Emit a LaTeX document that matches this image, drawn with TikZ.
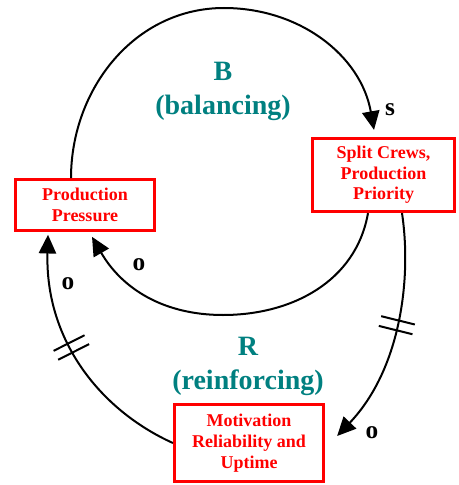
\documentclass[tikz,border=0pt]{standalone}
\usepackage{fontspec}
\setmainfont{Liberation Serif}
\usetikzlibrary{arrows.meta,calc,decorations.markings}
\definecolor{loopteal}{RGB}{0,128,128}
\begin{document}
\begin{tikzpicture}[x=0.75pt,y=-0.75pt,>={Triangle[length=14pt,width=13pt]},
  var/.style={draw=red,line width=2.2pt,text=red,align=center,inner sep=0pt,font=\fontsize{13.5}{15.5}\selectfont\bfseries},
  loopname/.style={text=loopteal,align=center,font=\fontsize{21}{25.5}\selectfont\bfseries},
  pol/.style={inner sep=0pt,font=\fontsize{19}{22}\selectfont\bfseries},
  link/.style={->,line width=1.5pt},
  hash/.style={postaction={decorate},decoration={markings,mark=at position #1 with
    {\draw[-,line width=1.5pt] (-3.75pt,-13pt) -- (-3.75pt,13pt) (3.75pt,-13pt) -- (3.75pt,13pt);}}}]
\useasboundingbox (0,0) rectangle (459,485);
\node[var,minimum width=104pt,minimum height=38pt] (pp) at (85,205) {Production\\Pressure};
\node[var,minimum width=106.5pt,minimum height=55pt] (sc) at (383.5,175) {Split Crews,\\Production\\Priority};
\node[var,minimum width=112pt,minimum height=58pt] (mo) at (249,443) {Motivation\\Reliability and\\Uptime};
\node[loopname] (bal) at (223,91) {B\\(balancing)};
\node[loopname] (rei) at (248,366) {R\\(reinforcing)};
\node[pol] (s1) at (390,110) {s};
\node[pol] (o1) at (139,265) {o};
\node[pol] (o2) at (68,284) {o};
\node[pol] (o3) at (372,433) {o};
\coordinate (baltop) at (224,8);
\coordinate (bottom) at (223,315);
% balancing loop
\draw[link] ($(pp.north)+(-14,0)$) to[out=90,in=180] (baltop) to[out=0,in=100] ($(sc.north)+(-9.5,-7)$);
\draw[link] ($(sc.south)+(-15.5,0)$) to[out=-100,in=0] (bottom) to[out=180,in=-60] ($(pp.south)+(7,5)$);
% reinforcing loop, delayed links
\draw[link,hash=0.47] ($(sc.south)+(18.5,0)$) .. controls (412,280) and (400,370) .. ($(mo.east)+(12,-7)$);
\draw[link,hash=0.55] (mo.west) .. controls (100,410) and (45,340) .. ($(pp.south)+(-37,3)$);
\end{tikzpicture}
\end{document}
